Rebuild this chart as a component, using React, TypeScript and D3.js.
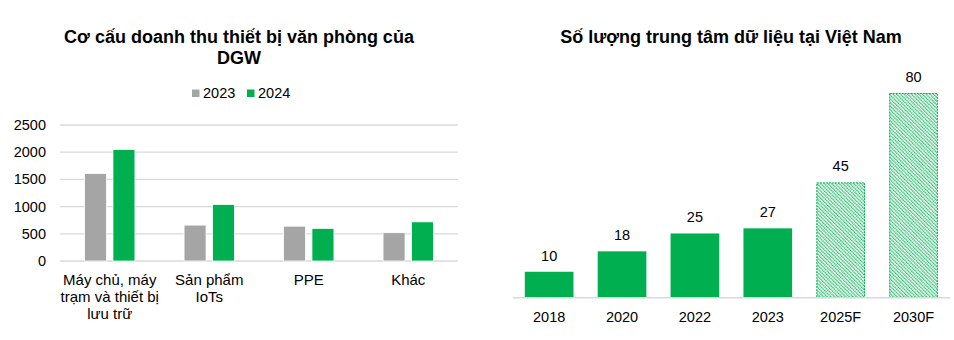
import React from "react";
import * as d3 from "d3";

const leftCategories = [
  ["Máy chủ, máy", "trạm và thiết bị", "lưu trữ"],
  ["Sản phẩm", "IoTs"],
  ["PPE"],
  ["Khác"],
];
const leftKeys = ["Máy chủ", "Sản phẩm IoTs", "PPE", "Khác"];
const seriesNames = ["2023", "2024"];
const values2023 = [1610, 660, 640, 520];
const values2024 = [2050, 1040, 600, 720];
const leftTicks = [0, 500, 1000, 1500, 2000, 2500];

const years = ["2018", "2020", "2022", "2023", "2025F", "2030F"];
const dcCounts = [10, 18, 25, 27, 45, 80];
const forecast = [false, false, false, false, true, true];

const GREEN = "#00B050";
const GRAY = "#A5A5A5";
const GRID = "#D9D9D9";
const FONT = "'Liberation Sans', Arial, sans-serif";
const FS = 14.5;

export default function App() {
  // Left chart
  const x0 = d3.scaleBand<string>().domain(leftKeys).range([60, 458]).padding(0);
  const half = 25.2;
  const x1 = d3
    .scaleBand<string>()
    .domain(seriesNames)
    .range([x0.bandwidth() / 2 - half, x0.bandwidth() / 2 + half])
    .paddingInner(0.225);
  const yL = d3.scaleLinear().domain([0, 2500]).range([261, 125]);
  const seriesVals = [values2023, values2024];
  const seriesColors = [GRAY, GREEN];

  // Right chart
  const xR = d3
    .scaleBand<string>()
    .domain(years)
    .range([512.7, 950])
    .paddingInner(0.332)
    .paddingOuter(0.166);
  const yR = d3.scaleLinear().domain([0, 80]).range([297.3, 93]);

  return (
    <div style={{ position: "absolute", left: 0, top: 0 }}>
      <svg width={954} height={340} style={{ display: "block", background: "#fff" }} fontFamily={FONT}>
        <defs>
          <pattern id="hatch" patternUnits="userSpaceOnUse" width={2.6} height={4} patternTransform="rotate(-45)">
            <rect width={2.6} height={4} fill="#fff" />
            <line x1={0.7} y1={0} x2={0.7} y2={4} stroke={GREEN} strokeWidth={1.2} strokeDasharray="1.6 0.4" />
          </pattern>
        </defs>

        {/* Left title */}
        <text x={239} y={43} textAnchor="middle" fontSize={18} fontWeight="bold" fill="#000">
          Cơ cấu doanh thu thiết bị văn phòng của
        </text>
        <text x={239} y={63.5} textAnchor="middle" fontSize={18} fontWeight="bold" fill="#000">
          DGW
        </text>

        {/* Legend */}
        <rect x={192} y={89.5} width={7.5} height={7.5} fill={GRAY} />
        <text x={203} y={98} fontSize={FS} fill="#000">2023</text>
        <rect x={247} y={89.5} width={7.5} height={7.5} fill={GREEN} />
        <text x={258} y={98} fontSize={FS} fill="#000">2024</text>

        {/* Gridlines & ticks */}
        {leftTicks.map((t) => (
          <g key={t}>
            <line x1={60} x2={458} y1={yL(t)} y2={yL(t)} stroke={GRID} strokeWidth={1.3} />
            <text x={46} y={yL(t)} dy="0.35em" textAnchor="end" fontSize={FS} fill="#000">
              {t}
            </text>
          </g>
        ))}

        {/* Bars */}
        {leftKeys.map((k, i) => (
          <g key={k} transform={`translate(${x0(k)},0)`}>
            {seriesNames.map((s, j) => (
              <rect
                key={s}
                x={x1(s)}
                y={yL(seriesVals[j][i])}
                width={x1.bandwidth()}
                height={yL(0) - yL(seriesVals[j][i])}
                fill={seriesColors[j]}
                stroke="#fff"
                strokeWidth={0.8}
              />
            ))}
            {leftCategories[i].map((line, li) => (
              <text
                key={li}
                x={x0.bandwidth() / 2}
                y={285 + li * 17}
                textAnchor="middle"
                fontSize={15}
                fill="#000"
              >
                {line}
              </text>
            ))}
          </g>
        ))}

        {/* Right title */}
        <text x={731} y={43} textAnchor="middle" fontSize={18} fontWeight="bold" fill="#000">
          Số lượng trung tâm dữ liệu tại Việt Nam
        </text>

        {/* Right bars */}
        {years.map((yr, i) => {
          const x = xR(yr)!;
          const w = xR.bandwidth();
          const top = yR(dcCounts[i]);
          return (
            <g key={yr}>
              {forecast[i] ? (
                <rect
                  x={x + 0.5}
                  y={top + 0.5}
                  width={w - 1}
                  height={yR(0) - top - 0.5}
                  fill="url(#hatch)"
                  stroke={GREEN}
                  strokeWidth={1}
                  strokeDasharray="2 1"
                />
              ) : (
                <rect x={x} y={top} width={w} height={yR(0) - top} fill={GREEN} />
              )}
              <text x={x + w / 2} y={top - 11} textAnchor="middle" fontSize={FS} fill="#000">
                {dcCounts[i]}
              </text>
              <text x={x + w / 2} y={321.5} textAnchor="middle" fontSize={FS} fill="#000">
                {yr}
              </text>
            </g>
          );
        })}
        <line x1={512.7} x2={950} y1={yR(0) + 0.5} y2={yR(0) + 0.5} stroke={GRID} strokeWidth={1.5} />
      </svg>
    </div>
  );
}
